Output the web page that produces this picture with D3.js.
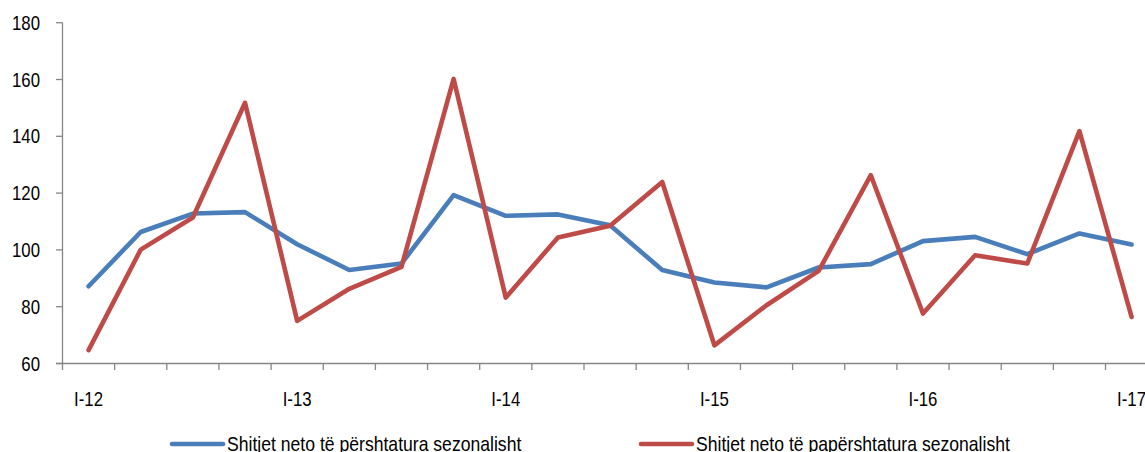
<!DOCTYPE html>
<html><head><meta charset="utf-8">
<script src="https://cdn.jsdelivr.net/npm/d3@7"></script>
<style>body{margin:0;background:#fff;overflow:hidden}svg{display:block}text{font-family:"Liberation Sans",Arial,sans-serif;fill:#000}</style>
</head><body><svg id="c" width="1145" height="452"></svg>
<script>
const categories = ["I-12","II-12","III-12","IV-12","I-13","II-13","III-13","IV-13","I-14","II-14","III-14","IV-14","I-15","II-15","III-15","IV-15","I-16","II-16","III-16","IV-16","I-17"];
const seasonallyAdjusted = [87.2,106.3,112.8,113.3,102,92.9,95.2,119.3,112,112.5,108.7,92.9,88.5,86.8,93.8,95,103.1,104.6,98.5,105.8,101.9];
const notAdjusted = [64.7,100.1,111.4,151.8,75,86.3,94,160.2,83.2,104.4,108.5,123.9,66.4,80.5,92.6,126.3,77.6,98.1,95.2,141.8,76.4];
const xTickLabels = ["I-12","I-13","I-14","I-15","I-16","I-17"];
const yTicks = [60,80,100,120,140,160,180];
const seriesNames = ["Shitjet neto të përshtatura sezonalisht","Shitjet neto të papërshtatura sezonalisht"];
const colors = ["#4a7ebb","#be4b48"];

const svg = d3.select("#c");
const x = d3.scaleBand().domain(categories).range([62.5, 62.5 + 21*52.15]).paddingInner(0).paddingOuter(0);
const y = d3.scaleLinear().domain([60,180]).range([363.5, 22.7]);
const cx = c => x(c) + x.bandwidth()/2;
const axisColor = "#868686";

// Y axis
const ya = svg.append("g");
ya.append("line").attr("x1",62.5).attr("x2",62.5).attr("y1",y(180)).attr("y2",y(60)).attr("stroke",axisColor).attr("stroke-width",1.3);
yTicks.forEach(t=>{
  ya.append("line").attr("x1",56).attr("x2",62.5).attr("y1",y(t)).attr("y2",y(t)).attr("stroke",axisColor).attr("stroke-width",1.3);
  ya.append("text").attr("text-anchor","end").attr("font-size",20).attr("dominant-baseline","central")
    .attr("transform",`translate(40,${y(t)}) scale(0.84,1)`).text(t);
});

// X axis
const xa = svg.append("g");
xa.append("line").attr("x1",56).attr("x2",1145).attr("y1",y(60)).attr("y2",y(60)).attr("stroke",axisColor).attr("stroke-width",1.3);
categories.forEach(c=>{
  xa.append("line").attr("x1",x(c)).attr("x2",x(c)).attr("y1",y(60)).attr("y2",y(60)+6.5).attr("stroke",axisColor).attr("stroke-width",1.3);
});
xTickLabels.forEach(l=>{
  xa.append("text").attr("text-anchor","middle").attr("font-size",20)
    .attr("transform",`translate(${cx(l)},406) scale(0.84,1)`).text(l);
});

// Lines
const line = d3.line().x((d,i)=>cx(categories[i])).y(d=>y(d));
[seasonallyAdjusted, notAdjusted].forEach((s,k)=>{
  svg.append("path").datum(s).attr("d",line).attr("fill","none").attr("stroke",colors[k])
    .attr("stroke-width",4.6).attr("stroke-linejoin","round").attr("stroke-linecap","round");
});

// Legend
const legendX = [172, 641];
seriesNames.forEach((n,k)=>{
  svg.append("line").attr("x1",legendX[k]).attr("x2",legendX[k]+51).attr("y1",444).attr("y2",444)
    .attr("stroke",colors[k]).attr("stroke-width",4.6).attr("stroke-linecap","round");
  svg.append("text").attr("font-size",20).attr("transform",`translate(${legendX[k]+55},450.5) scale(0.88,1)`).text(n);
});
</script></body></html>
